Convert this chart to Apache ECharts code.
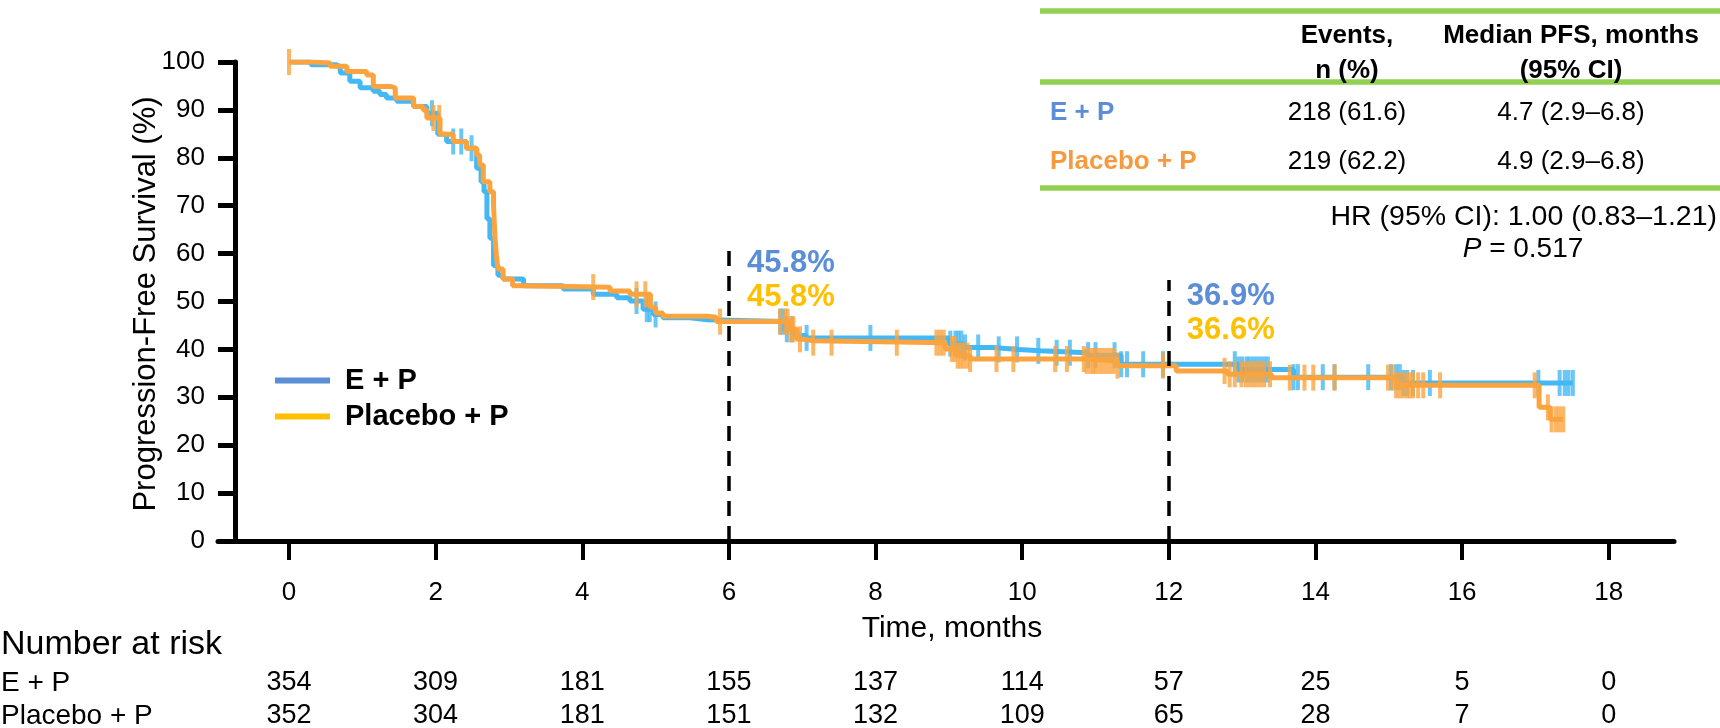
<!DOCTYPE html>
<html><head><meta charset="utf-8">
<script src="https://cdn.jsdelivr.net/npm/echarts@6/dist/echarts.min.js"></script>
<style>html,body{margin:0;padding:0;background:#fff}#c{width:1720px;height:728px}</style>
</head><body><div id="c"></div>
<script>
// ---------- data ----------
const xTicks = [0, 2, 4, 6, 8, 10, 12, 14, 16, 18];
const seriesNames = ['E + P', 'Placebo + P'];

const epTimes = [0, 0.3, 0.65, 0.7, 0.83, 0.97, 1.15, 1.24, 1.33, 1.47, 1.7, 1.88, 2.03, 2.15, 2.42, 2.56, 2.62, 2.66, 2.7, 2.74, 2.79, 2.85, 2.92, 3.2, 3.74, 4.15, 4.47, 4.65, 4.83, 4.97, 5.1, 5.47, 5.7, 6.76, 6.9, 7.05, 9.0, 9.2, 9.6, 9.95, 10.25, 10.88, 11.35, 12.95, 13.7, 15.2, 17.51];
const epSurv  = [100, 99.4, 99.0, 97.7, 96.0, 94.6, 93.9, 93.2, 92.5, 91.8, 90.7, 89.3, 84.9, 83.4, 82.0, 77.8, 75.0, 72.9, 67.3, 63.2, 57.5, 55.5, 54.7, 53.3, 52.6, 51.5, 50.8, 50.1, 48.4, 47.3, 46.6, 46.2, 45.8, 44.2, 42.9, 42.4, 41.2, 40.4, 40.0, 39.7, 39.3, 38.8, 36.9, 35.8, 34.2, 33.0, 33.0];

const pbTimes = [0, 0.33, 0.56, 0.79, 1.06, 1.15, 1.38, 1.45, 1.7, 1.83, 1.88, 2.06, 2.24, 2.42, 2.56, 2.6, 2.65, 2.74, 2.79, 2.81, 2.83, 2.85, 2.92, 3.05, 3.2, 4.38, 4.65, 4.93, 5.0, 5.1, 5.7, 5.83, 6.84, 6.93, 7.02, 7.15, 8.95, 9.1, 9.29, 10.85, 11.3, 12.1, 12.8, 13.4, 15.1, 17.05, 17.2, 17.38];
const pbSurv  = [100, 99.8, 99.1, 98.0, 97.3, 94.9, 94.6, 92.5, 90.7, 90.0, 88.3, 84.9, 83.4, 82.0, 80.6, 78.5, 75.0, 72.9, 70.2, 63.2, 59.6, 56.8, 54.7, 53.3, 53.0, 52.2, 51.5, 48.8, 47.6, 46.9, 46.7, 45.8, 44.2, 42.1, 41.8, 41.4, 40.1, 38.7, 38.0, 37.6, 36.6, 35.5, 34.8, 34.1, 32.5, 27.9, 25.4, 25.4];

const epCensor = [1.95, 2.24, 2.35, 2.49, 4.74, 4.88, 4.92, 5.0, 6.7, 6.74, 6.79, 6.86, 7.06, 7.93, 9.02, 9.09, 9.13, 9.17, 9.22, 9.4, 9.68, 9.93, 10.22, 10.47, 10.65, 10.9, 11.0, 11.26, 11.35, 11.43, 11.65, 11.92, 12.9, 12.95, 13.0, 13.06, 13.1, 13.15, 13.2, 13.25, 13.3, 13.35, 13.7, 13.76, 14.1, 14.26, 14.72, 15.03, 15.1, 15.15, 15.2, 15.25, 15.33, 15.56, 17.04, 17.33, 17.4, 17.45, 17.51];
const pbCensor = [0, 1.97, 2.05, 4.15, 4.74, 4.86, 5.88, 6.7, 6.77, 6.8, 6.84, 6.88, 6.97, 7.15, 7.4, 8.29, 8.83, 8.88, 8.93, 9.04, 9.08, 9.12, 9.16, 9.2, 9.25, 9.29, 9.65, 9.88, 10.45, 10.61, 10.84, 10.88, 10.93, 10.97, 11.0, 11.05, 11.1, 11.15, 11.2, 11.25, 11.3, 11.92, 12.76, 12.83, 12.9, 12.99, 13.05, 13.1, 13.15, 13.2, 13.25, 13.3, 13.38, 13.65, 13.85, 13.97, 14.26, 14.99, 15.05, 15.1, 15.15, 15.2, 15.25, 15.29, 15.33, 15.4, 15.47, 15.7, 16.99, 17.17, 17.22, 17.28, 17.33, 17.38];

const riskEP = [354, 309, 181, 155, 137, 114, 57, 25, 5, 0];
const riskPB = [352, 304, 181, 151, 132, 109, 65, 28, 7, 0];

const landmarkTimes = [6, 12];
const landmarkTop = [61.4, 54.5];
const landmarkEP = ['45.8%', '36.9%'];
const landmarkPB = ['45.8%', '36.6%'];

const tableHead1 = ['Events,', 'n (%)'];
const tableHead2 = ['Median PFS, months', '(95% CI)'];
const tableEvents = ['218 (61.6)', '219 (62.2)'];
const tableMedian = ['4.7 (2.9–6.8)', '4.9 (2.9–6.8)'];
const hrText = 'HR (95% CI): 1.00 (0.83–1.21)';
const pValue = '0.517';

// ---------- style ----------
const FONT = 'Liberation Sans, Arial, Helvetica, sans-serif';
const C_EP = '#43B8F4', C_PB = '#FBA43F';
const C_EP_TXT = '#5B8ED6', C_PB_TXT = '#FFC000', C_PB_TAB = '#F79A3E';
const GREEN = '#92D050';

function survAt(times, surv, t) {
  let v = surv[0];
  for (let i = 0; i < times.length; i++) if (times[i] <= t) v = surv[i];
  return v;
}

const chart = echarts.init(document.getElementById('c'), null, {renderer: 'canvas'});
const XMIN = -0.968, XMAX = 18.89;

function riskAxis(arr, off) {
  return {
    type: 'value', min: XMIN, max: XMAX, position: 'bottom', offset: off,
    axisLine: {show: false}, axisTick: {show: false}, splitLine: {show: false},
    axisLabel: {customValues: xTicks, margin: 0, verticalAlign: 'middle',
      fontSize: 27, fontFamily: FONT, color: '#000',
      formatter: v => { const i = xTicks.indexOf(Math.round(v)); return i >= 0 ? String(arr[i]) : ''; }}
  };
}

const textG = (x, y, text, o) => Object.assign({type: 'text', x: x, y: y, silent: true,
  style: Object.assign({text: text, font: '26px ' + FONT, fill: '#000', textAlign: 'left', textVerticalAlign: 'middle'}, o || {})});

const staticGraphics = [
  // table rules
  {type: 'line', shape: {x1: 1040, y1: 11, x2: 1720, y2: 11}, style: {stroke: GREEN, lineWidth: 5.5}, silent: true},
  {type: 'line', shape: {x1: 1040, y1: 82, x2: 1720, y2: 82}, style: {stroke: GREEN, lineWidth: 5.5}, silent: true},
  {type: 'line', shape: {x1: 1040, y1: 188, x2: 1720, y2: 188}, style: {stroke: GREEN, lineWidth: 5.5}, silent: true},
  textG(1347, 36, tableHead1[0], {font: 'bold 26px ' + FONT, textAlign: 'center'}),
  textG(1347, 71, tableHead1[1], {font: 'bold 26px ' + FONT, textAlign: 'center'}),
  textG(1571, 36, tableHead2[0], {font: 'bold 26px ' + FONT, textAlign: 'center'}),
  textG(1571, 71, tableHead2[1], {font: 'bold 26px ' + FONT, textAlign: 'center'}),
  textG(1050, 113, seriesNames[0], {font: 'bold 26px ' + FONT, fill: C_EP_TXT}),
  textG(1050, 162, seriesNames[1], {font: 'bold 26px ' + FONT, fill: C_PB_TAB}),
  textG(1347, 113, tableEvents[0], {textAlign: 'center'}),
  textG(1347, 162, tableEvents[1], {textAlign: 'center'}),
  textG(1571, 113, tableMedian[0], {textAlign: 'center'}),
  textG(1571, 162, tableMedian[1], {textAlign: 'center'}),
  textG(1717, 217, hrText, {font: '28.5px ' + FONT, textAlign: 'right'}),
  {type: 'text', x: 1523, y: 249, silent: true, style: {
    text: '{i|P} = ' + pValue, textAlign: 'center', textVerticalAlign: 'middle',
    font: '28px ' + FONT, fill: '#000',
    rich: {i: {fontStyle: 'italic', fontSize: 28, fontFamily: FONT, fill: '#000'}}}},
  // axis titles
  {type: 'text', x: 146, y: 304, rotation: Math.PI / 2, silent: true,
    style: {text: 'Progression-Free Survival (%)', font: '31px ' + FONT, fill: '#000', textAlign: 'center', textVerticalAlign: 'middle'}},
  textG(952, 629, 'Time, months', {font: '30px ' + FONT, textAlign: 'center'}),
  // risk table labels
  textG(1, 645, 'Number at risk', {font: '34px ' + FONT}),
  textG(1, 683, seriesNames[0], {font: '28px ' + FONT}),
  textG(1, 716, seriesNames[1], {font: '28px ' + FONT})
];

const option = {
  animation: false,
  backgroundColor: '#fff',
  grid: {left: 218, right: 46, top: 62, bottom: 187, containLabel: false, outerBoundsMode: 'none'},
  xAxis: [
    {type: 'value', min: XMIN, max: XMAX, position: 'bottom',
      axisLine: {show: true, onZero: false, lineStyle: {color: '#000', width: 5}},
      axisTick: {show: true, customValues: xTicks, length: 19, lineStyle: {color: '#000', width: 4}},
      axisLabel: {customValues: xTicks, margin: 52, verticalAlign: 'middle', fontSize: 26, fontFamily: FONT, color: '#000'},
      splitLine: {show: false}},
    riskAxis(riskEP, 142),
    riskAxis(riskPB, 175)
  ],
  yAxis: {type: 'value', min: 0, max: 100, interval: 10, offset: -17,
    axisLine: {show: true, onZero: false, lineStyle: {color: '#000', width: 5}},
    axisTick: {show: true, length: 17, lineStyle: {color: '#000', width: 5}},
    axisLabel: {margin: 30, fontSize: 26, fontFamily: FONT, color: '#000'},
    splitLine: {show: false}},
  legend: {orient: 'vertical', left: 270, top: 361, itemWidth: 55, itemHeight: 6, itemGap: 7, icon: 'rect',
    selectedMode: false,
    textStyle: {fontSize: 29, fontWeight: 'bold', fontFamily: FONT, color: '#000', padding: [0, 0, 0, 10]},
    data: [{name: seriesNames[0], itemStyle: {color: C_EP_TXT}}, {name: seriesNames[1], itemStyle: {color: C_PB_TXT}}]},
  graphic: staticGraphics,
  series: [
    {name: 'landmarks', type: 'line', data: [], silent: true,
      markLine: {silent: true, symbol: ['none', 'none'], label: {show: false},
        lineStyle: {color: '#000', type: [15, 10], width: 3.5},
        data: landmarkTimes.map((t, i) => [{coord: [t, 0]}, {coord: [t, landmarkTop[i]]}])}},
    {name: seriesNames[0], type: 'line', step: 'end', showSymbol: false, symbol: 'none',
      data: epTimes.map((t, i) => [t, epSurv[i]]), lineStyle: {color: C_EP, width: 5}, itemStyle: {color: C_EP}, z: 2},
    {name: 'E + P censored', type: 'scatter', symbol: 'rect', symbolSize: [4, 26],
      data: epCensor.map(t => [t, survAt(epTimes, epSurv, t)]), itemStyle: {color: C_EP}, z: 2},
    {name: seriesNames[1], type: 'line', step: 'end', showSymbol: false, symbol: 'none',
      data: pbTimes.map((t, i) => [t, pbSurv[i]]), lineStyle: {color: C_PB, width: 5}, itemStyle: {color: C_PB}, z: 3},
    {name: 'Placebo + P censored', type: 'scatter', symbol: 'rect', symbolSize: [4, 26],
      data: pbCensor.map(t => [t, survAt(pbTimes, pbSurv, t)]), itemStyle: {color: C_PB}, z: 3}
  ]
};
chart.setOption(option);

// landmark percentage labels, placed via the chart's own scales
const extra = [];
landmarkTimes.forEach((t, i) => {
  const p = chart.convertToPixel({xAxisIndex: 0, yAxisIndex: 0}, [t, landmarkTop[i]]);
  extra.push(textG(p[0] + 18, p[1] + 17, landmarkEP[i], {font: 'bold 31px ' + FONT, fill: C_EP_TXT}));
  extra.push(textG(p[0] + 18, p[1] + 51, landmarkPB[i], {font: 'bold 31px ' + FONT, fill: C_PB_TXT}));
});
chart.setOption({graphic: staticGraphics.concat(extra)});
</script></body></html>
